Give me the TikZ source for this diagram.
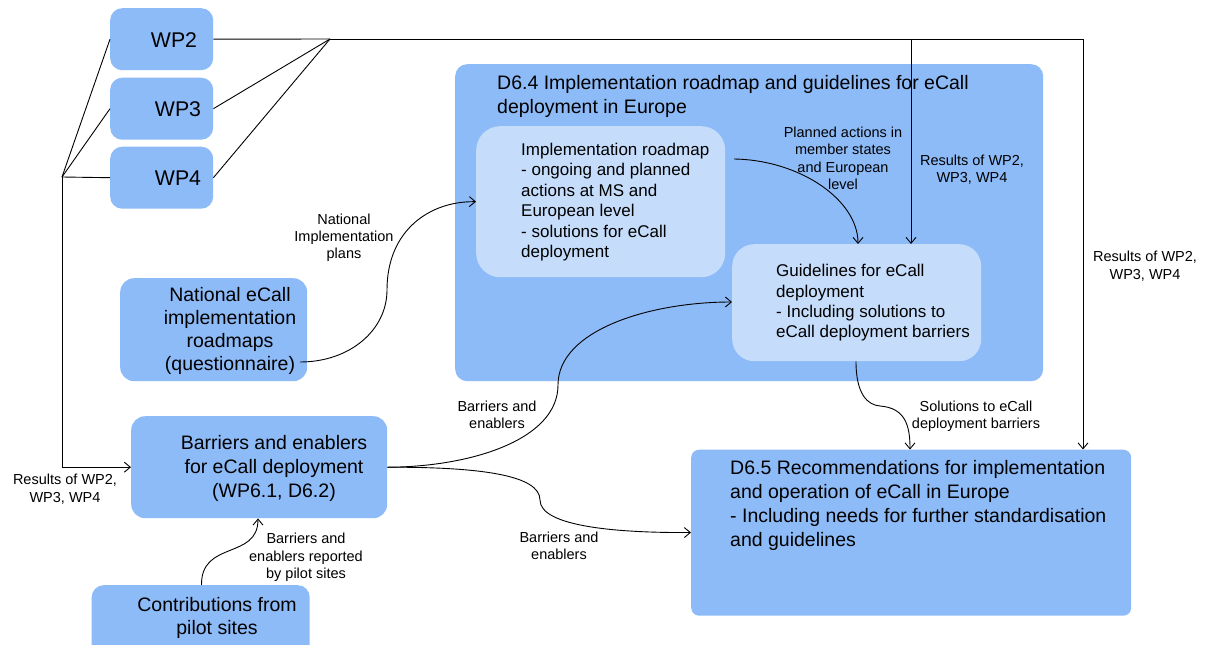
\documentclass[tikz,border=0pt]{standalone}
\usepackage{fontspec}
\setmainfont{Liberation Sans}
\usetikzlibrary{arrows.meta}
\definecolor{boxblue}{HTML}{8DBBF8}
\definecolor{lightblue}{HTML}{C5DDFB}
\begin{document}
\begin{tikzpicture}[x=1pt,y=-1pt,
  outer/.style={fill=boxblue, rounded corners=12pt, inner sep=0pt, anchor=north west},
  innerbox/.style={fill=lightblue, rounded corners=24pt, inner sep=0pt, anchor=north west},
  big/.style={font=\fontsize{19.5}{23.6}\selectfont, inner sep=0pt},
  mid/.style={font=\fontsize{17}{20.5}\selectfont, inner sep=0pt, align=left, anchor=west},
  lab/.style={font=\fontsize{14.5}{17.5}\selectfont, align=center, inner sep=0pt},
  conn/.style={line width=0.9pt},
  arr/.style={conn, -{Straight Barb[length=6pt,width=10pt]}}]
\clip (0,0) rectangle (1205,645);
\fill[white] (0,0) rectangle (1205,645);
% boxes
\node[outer, minimum width=103pt, minimum height=62pt] (wp2) at (110,8) {};
\node[outer, minimum width=103pt, minimum height=62pt] (wp3) at (110,77.5) {};
\node[outer, minimum width=103pt, minimum height=62pt] (wp4) at (110,146.5) {};
\node[outer, minimum width=588pt, minimum height=317pt] (d64) at (455,64) {};
\node[innerbox, minimum width=249pt, minimum height=151pt] (impl) at (476,126) {};
\node[innerbox, rounded corners=22pt, minimum width=249pt, minimum height=117pt] (guide) at (732,244) {};
\node[outer, rounded corners=14pt, minimum width=187pt, minimum height=103pt] (natl) at (120,278) {};
\node[outer, rounded corners=14pt, minimum width=256pt, minimum height=102pt] (barr) at (131,416) {};
\node[outer, minimum width=218pt, minimum height=80pt] (contr) at (91.5,585) {};
\node[outer, rounded corners=8pt, minimum width=440pt, minimum height=166pt] (d65) at (691,449.5) {};
% connectors
\coordinate (fanL) at (62,177);
\coordinate (fanR) at (330,39);
\coordinate (topR) at (1083,39);
\coordinate (branch) at (911,39);
\coordinate (natlOut) at (300,362);
\coordinate (planStart) at (734,159);
\draw[conn] (wp2.west) -- (fanL);
\draw[conn] (wp3.west) -- (fanL);
\draw[conn] (fanL) -- (wp4.west);
\draw[arr] (fanL) |- (barr.west);
\draw[conn] (wp2.east) -- (fanR);
\draw[conn] (wp3.east) -- (fanR);
\draw[conn] (wp4.east) -- (fanR);
\draw[arr] (fanR) -- (topR) -- (topR |- d65.north);
\draw[arr] (branch) -- (branch |- guide.north);
\draw[arr] (natlOut) .. controls (350,362) and (387,330) .. (387,290) .. controls (387,230) and (430,201) .. (impl.west);
\draw[arr] (planStart) .. controls (800,160) and (858,200) .. ([xshift=126pt]guide.north west);
\draw[arr] (barr.east) .. controls (470,467) and (558,440) .. (558,385) .. controls (558,330) and (650,302) .. ([yshift=-58pt]guide.north west);
\draw[arr] (barr.east) .. controls (480,467) and (540,475) .. (540,500) .. controls (540,527) and (620,533) .. ([yshift=-83pt]d65.north west);
\draw[arr] ([xshift=110pt]contr.north west) .. controls (201,540) and (258,560) .. ([xshift=127pt]barr.south west);
\draw[arr] ([xshift=124pt]guide.south west) .. controls (856,395) and (868,405) .. (880,406) .. controls (905,408) and (910,425) .. ([xshift=219pt]d65.north west);
% texts
\node[big, font=\fontsize{21.3}{24}\selectfont] (wp2t) at (174,40) {WP2};
\node[big, font=\fontsize{21.3}{24}\selectfont] (wp3t) at (178,109) {WP3};
\node[big, font=\fontsize{21.3}{24}\selectfont] (wp4t) at (178,178) {WP4};
\node[big, align=left, anchor=west] (d64t) at (497,96.5) {D6.4 Implementation roadmap and guidelines for eCall\\deployment in Europe};
\node[mid] (implt) at (521,202) {Implementation roadmap\\- ongoing and planned\\actions at MS and\\European level\\- solutions for eCall\\deployment};
\node[mid, font=\fontsize{17}{20.3}\selectfont] (guidet) at (776,303) {Guidelines for eCall\\deployment\\- Including solutions to\\eCall deployment barriers};
\node[big, align=center, font=\fontsize{19.5}{23.3}\selectfont] (natlt) at (230,331) {National eCall\\implementation\\roadmaps\\(questionnaire)};
\node[big, align=center, font=\fontsize{19.5}{23.8}\selectfont] (barrt) at (274,468.3) {Barriers and enablers\\for eCall deployment\\(WP6.1, D6.2)};
\node[big, align=center, font=\fontsize{19.5}{23.3}\selectfont] (contrt) at (217,617.7) {Contributions from\\pilot sites};
\node[big, align=left, anchor=west, font=\fontsize{19.5}{24}\selectfont] (d65t) at (730,505) {D6.5 Recommendations for implementation\\and operation of eCall in Europe\\- Including needs for further standardisation\\and guidelines};
% labels
\node[lab] (planlab) at (843,158.5) {Planned actions in\\member states\\and European\\level};
\node[lab] (res1) at (972,169.5) {Results of WP2,\\WP3, WP4};
\node[lab] (res2) at (1145,266.3) {Results of WP2,\\WP3, WP4};
\node[lab] (res3) at (65,489) {Results of WP2,\\WP3, WP4};
\node[lab, font=\fontsize{14.5}{17.2}\selectfont] (natlab) at (344,238) {National\\Implementation\\plans};
\node[lab] (barlab1) at (497,414.7) {Barriers and\\enablers};
\node[lab] (barlab2) at (559,546) {Barriers and\\enablers};
\node[lab] (replab) at (306,557.5) {Barriers and\\enablers reported\\by pilot sites};
\node[lab] (sollab) at (976,416.4) {Solutions to eCall\\deployment barriers};
\end{tikzpicture}
\end{document}
